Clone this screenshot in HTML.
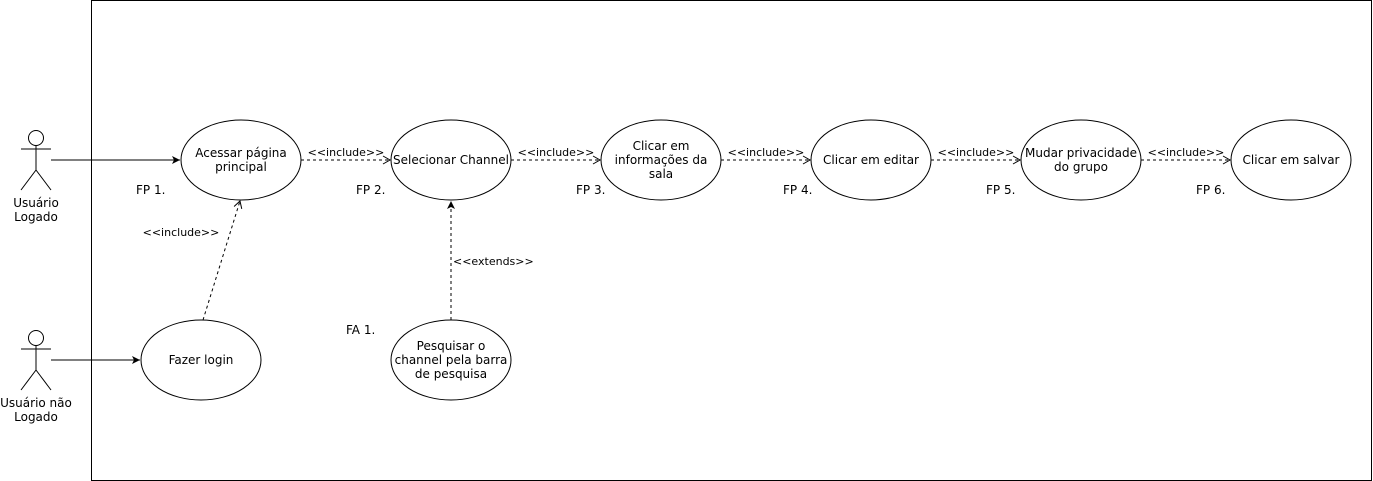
<!DOCTYPE html>
<html><head><meta charset="utf-8"><style>
html,body{margin:0;padding:0;background:#fff;}
svg{display:block;}
text{font-family:"DejaVu Sans","Liberation Sans",sans-serif;font-size:12px;fill:#000;}
.s{font-size:11px;}
</style></head><body>
<svg width="1373" height="481" viewBox="0 0 1373 481" xmlns="http://www.w3.org/2000/svg">
<defs>
<marker id="fa" markerWidth="10" markerHeight="10" refX="8" refY="5" orient="auto" markerUnits="userSpaceOnUse"><path d="M0,1 L8,5 L0,9 L2,5 Z" fill="#000"/></marker>
<marker id="oa" markerWidth="10" markerHeight="10" refX="8" refY="5" orient="auto" markerUnits="userSpaceOnUse"><path d="M1,1 L8,5 L1,9" fill="none" stroke="#000"/></marker>
</defs>
<rect x="91.5" y="0.5" width="1280" height="480" fill="none" stroke="#000"/>
<g fill="none" stroke="#000">
<!-- actor 1 -->
<circle cx="36" cy="138" r="7.5" fill="#fff"/>
<line x1="36" y1="145.5" x2="36" y2="170"/>
<line x1="21" y1="149" x2="51" y2="149"/>
<line x1="36" y1="170" x2="21" y2="190"/>
<line x1="36" y1="170" x2="51" y2="190"/>
<!-- actor 2 -->
<circle cx="36" cy="338" r="7.5" fill="#fff"/>
<line x1="36" y1="345.5" x2="36" y2="370"/>
<line x1="21" y1="349" x2="51" y2="349"/>
<line x1="36" y1="370" x2="21" y2="390"/>
<line x1="36" y1="370" x2="51" y2="390"/>
<!-- ellipses -->
<ellipse cx="241" cy="160" rx="60" ry="40" fill="#fff"/>
<ellipse cx="451" cy="160" rx="60" ry="40" fill="#fff"/>
<ellipse cx="661" cy="160" rx="60" ry="40" fill="#fff"/>
<ellipse cx="871" cy="160" rx="60" ry="40" fill="#fff"/>
<ellipse cx="1081" cy="160" rx="60" ry="40" fill="#fff"/>
<ellipse cx="1291" cy="160" rx="60" ry="40" fill="#fff"/>
<ellipse cx="201" cy="360" rx="60" ry="40" fill="#fff"/>
<ellipse cx="451" cy="360" rx="60" ry="40" fill="#fff"/>
<!-- solid arrows -->
<line x1="51" y1="160" x2="180" y2="160" marker-end="url(#fa)"/>
<line x1="51" y1="360" x2="140" y2="360" marker-end="url(#fa)"/>
<!-- dashed includes -->
<g stroke-dasharray="3,3">
<line x1="301" y1="160" x2="390" y2="160" marker-end="url(#oa)"/>
<line x1="511" y1="160" x2="600" y2="160" marker-end="url(#oa)"/>
<line x1="721" y1="160" x2="810" y2="160" marker-end="url(#oa)"/>
<line x1="931" y1="160" x2="1020" y2="160" marker-end="url(#oa)"/>
<line x1="1141" y1="160" x2="1230" y2="160" marker-end="url(#oa)"/>
<line x1="203" y1="320" x2="240" y2="201" marker-end="url(#oa)"/>
<line x1="451" y1="320" x2="451" y2="201" marker-end="url(#fa)"/>
</g>
</g>
<g text-anchor="middle">
<text x="36" y="207">Usuário</text><text x="36" y="221">Logado</text>
<text x="36" y="407">Usuário não</text><text x="36" y="421">Logado</text>
<text x="241" y="157">Acessar página</text><text x="241" y="171">principal</text>
<text x="451" y="164">Selecionar Channel</text>
<text x="661" y="150">Clicar em</text><text x="661" y="164">informações da</text><text x="661" y="178">sala</text>
<text x="871" y="164">Clicar em editar</text>
<text x="1081" y="157">Mudar privacidade</text><text x="1081" y="171">do grupo</text>
<text x="1291" y="164">Clicar em salvar</text>
<text x="201" y="364">Fazer login</text>
<text x="451" y="350">Pesquisar o</text><text x="451" y="364">channel pela barra</text><text x="451" y="378">de pesquisa</text>
<text class="s" x="346" y="156">&lt;&lt;include&gt;&gt;</text>
<text class="s" x="556" y="156">&lt;&lt;include&gt;&gt;</text>
<text class="s" x="766" y="156">&lt;&lt;include&gt;&gt;</text>
<text class="s" x="976" y="156">&lt;&lt;include&gt;&gt;</text>
<text class="s" x="1186" y="156">&lt;&lt;include&gt;&gt;</text>
<text class="s" x="181" y="236">&lt;&lt;include&gt;&gt;</text>
</g>
<text class="s" x="453" y="265">&lt;&lt;extends&gt;&gt;</text>
<text x="136" y="194">FP 1.</text>
<text x="356" y="194">FP 2.</text>
<text x="576" y="194">FP 3.</text>
<text x="783" y="194">FP 4.</text>
<text x="986" y="194">FP 5.</text>
<text x="1196" y="194">FP 6.</text>
<text x="346" y="334">FA 1.</text>
</svg>
</body></html>
